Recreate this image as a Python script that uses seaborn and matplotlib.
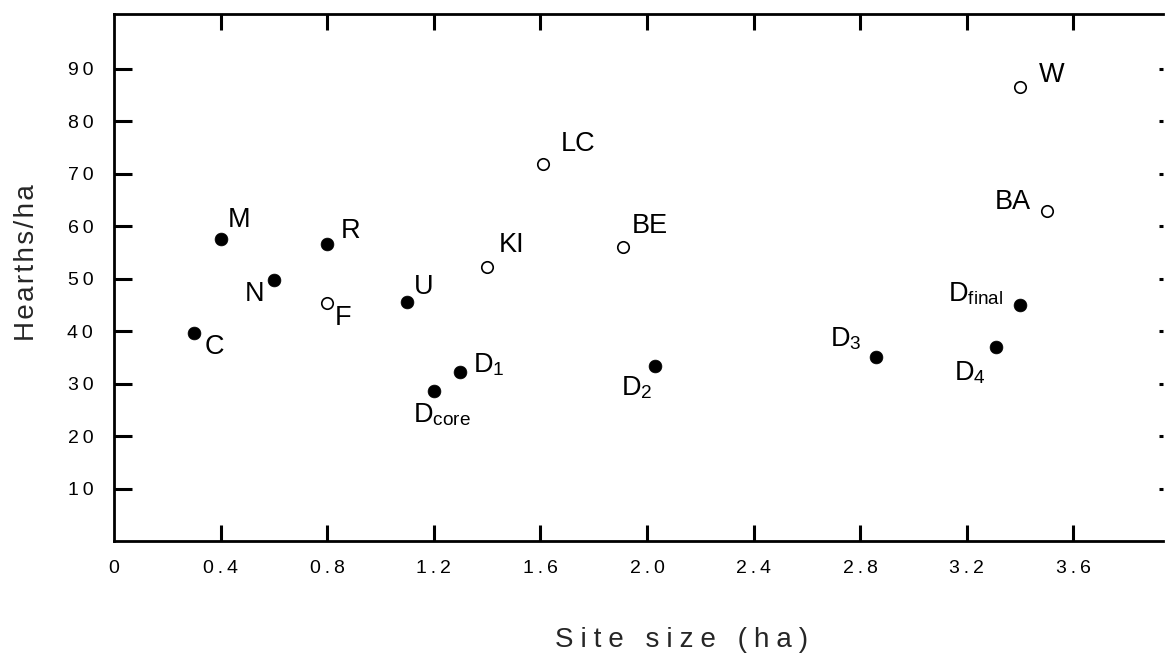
import matplotlib
matplotlib.use("Agg")
import matplotlib.pyplot as plt
import seaborn as sns
import pandas as pd

# ---- data ----
filled_names = ["C", "M", "N", "R", "U", "Dcore", "D1", "D2", "D3", "D4", "Dfinal"]
filled_x = [0.30, 0.40, 0.60, 0.80, 1.10, 1.20, 1.30, 2.03, 2.86, 3.31, 3.40]
filled_y = [39.6, 57.6, 49.8, 56.5, 45.6, 28.6, 32.2, 33.3, 35.0, 36.9, 45.0]

open_names = ["F", "KI", "LC", "BE", "W", "BA"]
open_x = [0.80, 1.40, 1.61, 1.91, 3.40, 3.50]
open_y = [45.3, 52.2, 71.9, 56.1, 86.5, 62.9]

label_text = {
    "C": "C", "M": "M", "N": "N", "R": "R", "U": "U", "F": "F",
    "KI": "KI", "LC": "LC", "BE": "BE", "W": "W", "BA": "BA",
    "D1": r"D$_{\mathregular{1}}$", "Dcore": r"D$_{\mathregular{core}}$",
    "D2": r"D$_{\mathregular{2}}$", "D3": r"D$_{\mathregular{3}}$",
    "D4": r"D$_{\mathregular{4}}$", "Dfinal": r"D$_{\mathregular{final}}$",
}
# label offsets in pixels (dx right, dy down)
label_offset_px = {
    "C": (20, 14), "M": (18, -19), "N": (-19, 14), "R": (23, -13),
    "F": (16, 15), "U": (17, -15), "KI": (24, -22), "LC": (35, -20),
    "BE": (27, -21), "W": (32, -12), "BA": (-34, -9),
    "D1": (28, -7), "Dcore": (8, 24), "D2": (-18, 21), "D3": (-30, -19),
    "D4": (-26, 25), "Dfinal": (-44, -11),
}

x_ticks = [0, 0.4, 0.8, 1.2, 1.6, 2.0, 2.4, 2.8, 3.2, 3.6]
x_tick_labels = ["0", "0.4", "0.8", "1.2", "1.6", "2.0", "2.4", "2.8", "3.2", "3.6"]
y_ticks = [10, 20, 30, 40, 50, 60, 70, 80, 90]
y_tick_labels = [str(v) for v in y_ticks]

sns.set_theme(style="white")
plt.rcParams["font.family"] = ["Liberation Sans", "DejaVu Sans"]
plt.rcParams["mathtext.fontset"] = "custom"
plt.rcParams["mathtext.rm"] = "Liberation Serif"
plt.rcParams["mathtext.it"] = "Liberation Serif:italic"


def spaced(s, sp="\u2009"):
    return sp.join(list(s))


W_AX = 1163 - 114
H_AX = 541 - 14
fig = plt.figure(figsize=(11.65, 6.53), dpi=100)
ax = fig.add_axes([114 / 1165, 1 - 541 / 653, W_AX / 1165, H_AX / 653])

df_f = pd.DataFrame({"x": filled_x, "y": filled_y, "name": filled_names})
df_o = pd.DataFrame({"x": open_x, "y": open_y, "name": open_names})

sns.scatterplot(data=df_f, x="x", y="y", ax=ax, color="black", s=85,
                edgecolor="black", linewidth=0.5, zorder=3)
sns.scatterplot(data=df_o, x="x", y="y", ax=ax, facecolor="white", s=68,
                edgecolor="black", linewidth=1.2, zorder=3)

px2pt = 72 / 100
for df in (df_f, df_o):
    for _, r in df.iterrows():
        dx, dy = label_offset_px[r["name"]]
        ax.annotate(label_text[r["name"]], (r["x"], r["y"]),
                    xytext=(dx * px2pt, -dy * px2pt), textcoords="offset points",
                    ha="center", va="center", fontsize=19.5, color="black")

ax.set_xlim(0, W_AX / 266.5)
ax.set_ylim(0, 100.4)

ax.set_xticks(x_ticks)
ax.set_xticklabels([spaced(t) for t in x_tick_labels], fontsize=14)
ax.set_yticks(y_ticks)
ax.set_yticklabels([spaced(t) for t in y_tick_labels], fontsize=14)

ax.tick_params(axis="x", which="major", direction="in", length=0,
               pad=14, labelcolor="black")
ax.tick_params(axis="y", which="major", direction="in", length=0,
               pad=15, labelcolor="black")

# inward tick marks at the tick positions (lengths as axes fractions)
tick_kw = dict(color="black", linewidth=2.2, clip_on=False, zorder=4,
               solid_capstyle="butt")
xtr = ax.get_xaxis_transform()
ytr = ax.get_yaxis_transform()
for xv in x_ticks[1:]:
    ax.plot([xv, xv], [0, 16 / H_AX], transform=xtr, **tick_kw)
    ax.plot([xv, xv], [1 - 16 / H_AX, 1], transform=xtr, **tick_kw)
for yv in y_ticks:
    ax.plot([0, 18 / W_AX], [yv, yv], transform=ytr, **tick_kw)
    ax.plot([1 - 4 / W_AX, 1], [yv, yv], transform=ytr, **tick_kw)

for side in ("left", "bottom", "top"):
    ax.spines[side].set_visible(True)
    ax.spines[side].set_linewidth(2.0)
    ax.spines[side].set_color("black")
ax.spines["right"].set_visible(False)

ax.set_xlabel(spaced("Site size (ha)", "\u2005"), fontsize=20)
ax.xaxis.set_label_coords((682 - 114) / W_AX, (541 - 627) / H_AX)
ax.set_ylabel(spaced("Hearths/ha", "\u200a"), fontsize=20)
ax.yaxis.set_label_coords((40 - 114) / W_AX, (541 - 263) / H_AX)

fig.savefig("out.png", dpi=100, facecolor="white")
